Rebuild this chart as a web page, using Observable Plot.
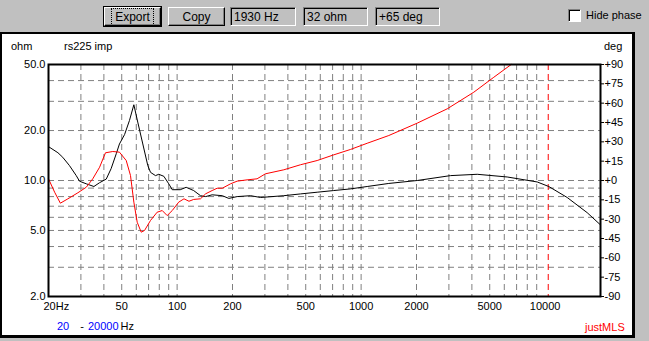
<!DOCTYPE html>
<html><head><meta charset="utf-8">
<script src="https://cdn.jsdelivr.net/npm/d3@7"></script>
<script src="https://cdn.jsdelivr.net/npm/@observablehq/plot@0.6"></script>
<style>
body{margin:0;width:649px;height:341px;background:#c0c0c0;position:relative;overflow:hidden;font-family:"Liberation Sans",Arial,sans-serif;font-size:11px;color:#000;}
.abs{position:absolute;white-space:nowrap;line-height:13px;}
.btn{position:absolute;top:7px;height:19px;box-sizing:border-box;background:#c0c0c0;border:1px solid;border-color:#fff #000 #000 #fff;box-shadow:inset -1px -1px 0 #808080;display:flex;align-items:center;justify-content:center;font-size:12px;}
.btn.def{outline:1px solid #000;}
.btn.def span{outline:1px dotted #000;outline-offset:1px;padding:0 2px;}
.box{position:absolute;top:7px;height:19px;box-sizing:border-box;background:#c0c0c0;border:1px solid;border-color:#808080 #fff #fff #808080;box-shadow:inset 1px 1px 0 #000;padding:2px 0 0 3px;font-size:12px;line-height:14px;}
.chk{position:absolute;left:568px;top:9px;width:13px;height:13px;box-sizing:border-box;background:#fff;border:1px solid;border-color:#808080 #fff #fff #808080;box-shadow:inset 1px 1px 0 #000;}
#panel{position:absolute;left:0;top:32px;width:635px;height:306px;box-sizing:border-box;background:#fff;border-style:solid;border-color:#000;border-width:2px 3px 3px 2px;}
#chart{position:absolute;left:2px;top:34px;}
</style>
</head><body>
<div class="btn def" style="left:104px;width:57px;"><span>Export</span></div>
<div class="btn" style="left:168px;width:57px;">Copy</div>
<div class="box" style="left:230px;width:66px;">1930 Hz</div>
<div class="box" style="left:303px;width:65px;">32 ohm</div>
<div class="box" style="left:375px;width:65px;">+65 deg</div>
<div class="chk"></div>
<div class="abs" style="left:586px;top:9px;font-size:11px;">Hide phase</div>
<div id="panel"></div>
<div id="chart"></div>
<div class="abs" style="left:11px;top:40px;">ohm</div>
<div class="abs" style="left:64px;top:40px;">rs225 imp</div>
<div class="abs" style="left:604px;top:40px;">deg</div>
<div class="abs" style="left:57px;top:320px;"><span style="color:#0000ff">20</span><span style="margin-left:11px">-</span><span style="color:#0000ff;margin-left:4px">20000</span><span style="margin-left:2px">Hz</span></div>
<div class="abs" style="left:585px;top:321px;color:#ff0000;">justMLS</div>
<script>
// impedance curve (Hz, ohm)
const impFreq = [20, 22.5, 23.9, 26, 28.3, 29.5, 32.1, 35.3, 37.9, 41.2, 43.8, 46.7, 48.6, 51.8, 55.1, 58.2, 61.1, 65.1, 69.3, 71.7, 76.3, 79.5, 84.7, 90.1, 94.1, 104, 112, 123, 134, 143, 155, 176, 191, 212, 251, 284, 380, 468, 577, 710, 876, 1079, 1414, 2018, 3060, 4276, 6222, 9058, 10472, 13184, 16930, 20000];
const impOhm = [16.0, 14.7, 13.8, 12.3, 10.7, 9.9, 9.55, 9.2, 9.7, 10.2, 11.8, 14.5, 16.6, 18.9, 23.0, 28.6, 22.5, 16.6, 12.3, 11.2, 10.7, 10.9, 10.6, 9.55, 8.8, 8.8, 9.1, 8.7, 8.1, 8.0, 8.2, 8.1, 7.8, 8.0, 8.1, 7.9, 8.1, 8.3, 8.5, 8.7, 8.9, 9.2, 9.6, 10.0, 10.7, 10.9, 10.5, 9.8, 9.2, 7.9, 6.4, 5.4];
// phase curve (Hz, deg)
const phaseFreq = [20, 21.6, 23.2, 25.5, 28.9, 32.1, 34.8, 37.9, 40.8, 44.7, 48.6, 52.9, 55.8, 58.2, 60.7, 63.8, 66.5, 71.7, 77.9, 83.0, 88.3, 94.1, 102, 109, 116, 123, 134, 143, 155, 165, 176, 195, 212, 240, 272, 302, 380, 468, 577, 710, 876, 1079, 1414, 2018, 2937, 4096, 5262, 6542];
const phaseDeg = [1.3, -9.1, -17.6, -14.2, -9.5, -5.2, 1.3, 10.3, 21.5, 22.5, 22.0, 15.5, 3.9, -16.8, -32.4, -40.1, -38.8, -31, -24.6, -23.3, -27.2, -23.3, -16.8, -14.2, -16.1, -14.7, -14.2, -10.3, -7.8, -6.0, -6.0, -2.6, -0.5, 0.5, 1.3, 5.2, 8.3, 12.2, 15.5, 19.9, 24.1, 28.9, 34.9, 44.5, 55.6, 68.5, 80.1, 90];
// axes / grid
const ohmTicks = [2, 5, 10, 20, 50];
const ohmGrid = [3, 4, 5, 6, 7, 8, 9, 10, 20, 30, 40];
const degTicks = [-90, -75, -60, -45, -30, -15, 0, 15, 30, 45, 60, 75, 90];
const freqTicks = [50, 100, 200, 500, 1000, 2000, 5000, 10000];
const freqFirst = [20];
const freqGrid = [30, 40, 50, 60, 70, 80, 90, 100, 200, 300, 400, 500, 600, 700, 800, 900, 1000, 2000, 3000, 4000, 5000, 6000, 7000, 8000, 9000];
const markerFreq = [10400];
const ohmDomain = [2, 50];
const degDomain = [-90, 90];

const ratio = ohmDomain[1] / ohmDomain[0];
const degToOhm = p => ohmDomain[0] * Math.pow(ratio, (p - degDomain[0]) / (degDomain[1] - degDomain[0]));

const imp = impFreq.map((f, i) => ({f, z: impOhm[i]}));
const phase = phaseFreq.map((f, i) => ({f, z: degToOhm(phaseDeg[i])}));

const grid = {stroke: "#808080", strokeOpacity: 1, strokeWidth: 1, strokeDasharray: "6,4"};
const degLabel = p => p < 0 ? String(p) : "+" + p;

const chart = Plot.plot({
  width: 630, height: 301,
  marginLeft: 46, marginRight: 32, marginTop: 30, marginBottom: 39,
  style: {fontFamily: "Liberation Sans, Arial, sans-serif", fontSize: "11px", background: "white", color: "black"},
  x: {type: "log", domain: [20, 20000], axis: null},
  y: {type: "log", domain: ohmDomain, axis: null},
  marks: [
    Plot.ruleX(freqGrid, grid),
    Plot.ruleY(ohmGrid, grid),
    Plot.ruleX(markerFreq, {stroke: "#ff0000", strokeWidth: 1, strokeDasharray: "6,4"}),
    Plot.line(imp, {x: "f", y: "z", stroke: "black", strokeWidth: 1}),
    Plot.line(phase, {x: "f", y: "z", stroke: "#ff0000", strokeWidth: 1}),
    Plot.frame({stroke: "black", strokeWidth: 2}),
    // left impedance labels
    Plot.text(ohmTicks, {y: d => d, frameAnchor: "left", textAnchor: "end", dx: -3, text: d => d.toFixed(1), fill: "black"}),
    // right phase ticks + labels
    Plot.axisY(degTicks.map(degToOhm), {anchor: "right", tickSize: 3, tickFormat: () => "", label: null, stroke: "black"}),
    Plot.text(degTicks, {y: d => degToOhm(d), frameAnchor: "right", textAnchor: "start", dx: 4, text: degLabel, fill: "black"}),
    // bottom frequency labels
    Plot.text(freqTicks, {x: d => d, frameAnchor: "bottom", dy: 13, text: d => String(d), fill: "black"}),
    Plot.text(freqFirst, {x: d => d, frameAnchor: "bottom", dy: 13, dx: -5, textAnchor: "start", text: d => d + "Hz", fill: "black"})
  ]
});
document.getElementById("chart").appendChild(chart);
</script>
</body></html>
